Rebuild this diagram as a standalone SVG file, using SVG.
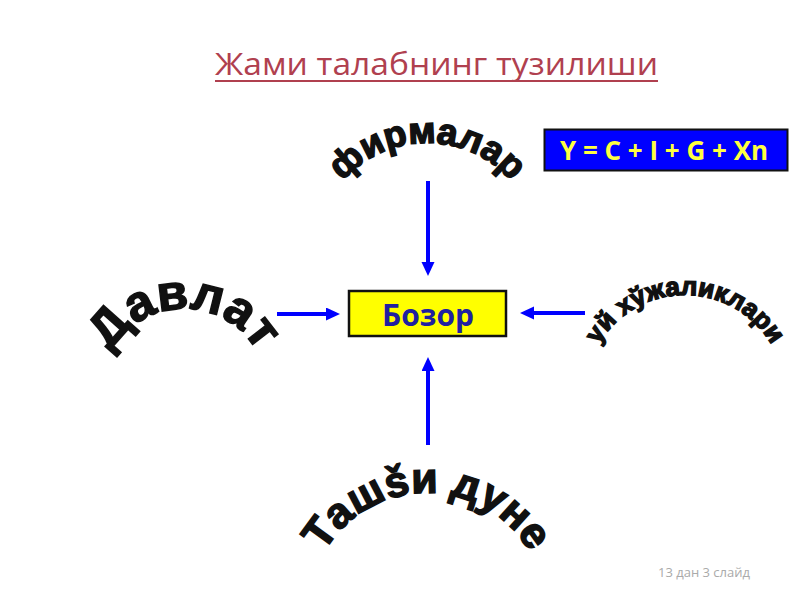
<svg xmlns="http://www.w3.org/2000/svg" xmlns:xlink="http://www.w3.org/1999/xlink" width="800" height="600" viewBox="0 0 800 600">
<style>
.arc{font-family:"Liberation Sans",Arial,sans-serif;font-weight:bold;fill:#111;stroke:#111;stroke-width:1.5;}
.conn{stroke:#0000ff;stroke-width:4;fill:none;}
</style>
<defs>
<marker id="ah" markerUnits="userSpaceOnUse" markerWidth="16" markerHeight="14" refX="0" refY="6.5" orient="auto">
<path d="M0,0 L14,6.5 L0,13 z" fill="#0000ff"/>
</marker>
<path id="pF" d="M 315,255 A 112 112 0 0 1 539,255"/>
<path id="pD" d="M 100,393 A 84 84 0 0 1 268,393"/>
<path id="pU" d="M 585,395 A 100 100 0 0 1 785,395"/>
<path id="pT" d="M 308,612 A 119 119 0 0 1 546,612"/>
</defs>
<rect width="800" height="600" fill="#ffffff"/>
<g id="title">
<text x="215" y="75" font-family="'Open Sans',sans-serif" font-size="31" fill="#b0404f" textLength="443" lengthAdjust="spacingAndGlyphs">Жами талабнинг тузилиши</text>
<line x1="215" y1="81" x2="658" y2="81" stroke="#b0404f" stroke-width="2"/>
</g>
<g id="formula">
<rect x="544.5" y="129.5" width="243" height="41" fill="#0000ff" stroke="#111" stroke-width="2"/>
<text x="664" y="160" text-anchor="middle" font-family="'Open Sans',sans-serif" font-weight="bold" font-size="26" fill="#ffff40">Y = C + I + G + Xn</text>
</g>
<g id="bozor">
<rect x="349" y="291" width="157" height="45" fill="#ffff00" stroke="#111" stroke-width="2.5"/>
<text x="428" y="326" text-anchor="middle" font-family="'Open Sans',sans-serif" font-weight="bold" font-size="30" fill="#2020a0">Бозор</text>
</g>
<g id="firmalar">
<text class="arc" font-size="37"><textPath xlink:href="#pF" href="#pF" startOffset="50%" text-anchor="middle">фирмалар</textPath></text>
</g>
<g id="davlat">
<text class="arc" font-size="50"><textPath xlink:href="#pD" href="#pD" startOffset="50%" text-anchor="middle">Давлат</textPath></text>
</g>
<g id="uy">
<text class="arc" font-size="26"><textPath xlink:href="#pU" href="#pU" startOffset="50%" text-anchor="middle">уй хўжаликлари</textPath></text>
</g>
<g id="tashqi">
<text class="arc" font-size="43"><textPath xlink:href="#pT" href="#pT" startOffset="50%" text-anchor="middle">Ташšи дуне</textPath></text>
</g>
<g id="connectors">
<line class="conn" x1="428" y1="181" x2="428" y2="262" marker-end="url(#ah)"/>
<line class="conn" x1="277" y1="314" x2="326" y2="314" marker-end="url(#ah)"/>
<line class="conn" x1="585" y1="313" x2="534" y2="313" marker-end="url(#ah)"/>
<line class="conn" x1="428" y1="445" x2="428" y2="371" marker-end="url(#ah)"/>
</g>
<text x="658" y="577" font-family="'Open Sans',sans-serif" font-size="13" fill="#aaaaaa">13 дан 3 слайд</text>
</svg>
